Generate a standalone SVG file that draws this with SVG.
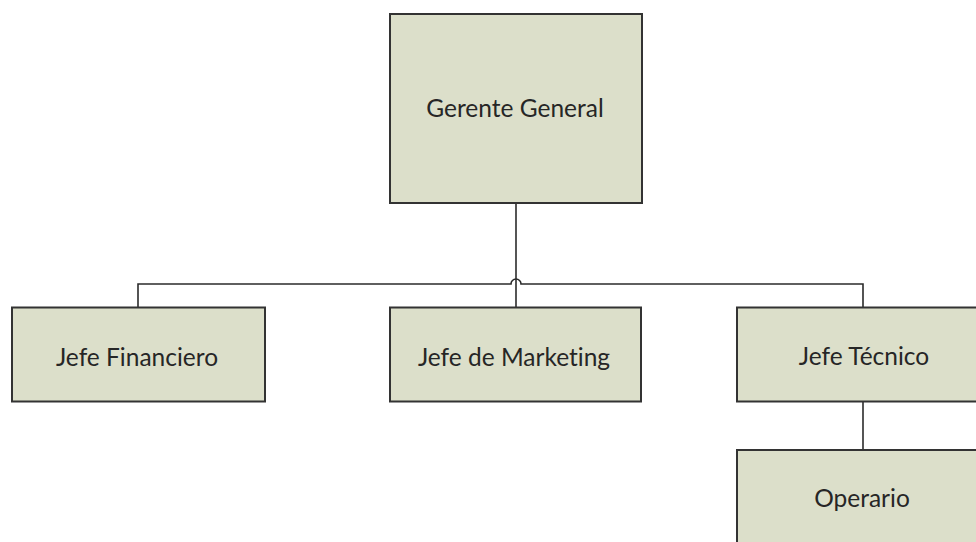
<svg xmlns="http://www.w3.org/2000/svg" width="976" height="542" viewBox="0 0 976 542">
  <style>
    .box { fill: #dcdfca; stroke: #333333; stroke-width: 2; }
    .lbl { font-family: "Lato", "Open Sans", "Liberation Sans", sans-serif; font-size: 24.5px; fill: #262626; text-anchor: middle; dominant-baseline: central; font-variant-ligatures: none; }
    .wire { fill: none; stroke: #2b2b2b; stroke-width: 1.6; }
  </style>
  <rect x="0" y="0" width="976" height="542" fill="#ffffff"/>

  <!-- connectors -->
  <g id="connectors">
    <path class="wire" d="M516 203 V307"/>
    <path class="wire" d="M138 308 V284 H511 A5 5 0 0 1 521 284 H863 V308"/>
    <path class="wire" d="M863 402 V450"/>
  </g>

  <!-- nodes -->
  <g id="gerente-general">
    <rect class="box" x="390" y="14" width="252" height="189"/>
    <text class="lbl" x="515" y="107">Gerente General</text>
  </g>
  <g id="jefe-financiero">
    <rect class="box" x="12" y="307.5" width="253" height="94"/>
    <text class="lbl" x="137" y="356">Jefe Financiero</text>
  </g>
  <g id="jefe-marketing">
    <rect class="box" x="390" y="307.5" width="251" height="94"/>
    <text class="lbl" x="514" y="356">Jefe de Marketing</text>
  </g>
  <g id="jefe-tecnico">
    <rect class="box" x="737" y="307.5" width="250" height="94"/>
    <text class="lbl" x="864" y="355">Jefe Técnico</text>
  </g>
  <g id="operario">
    <rect class="box" x="737" y="450" width="250" height="96"/>
    <text class="lbl" x="862" y="497">Operario</text>
  </g>
</svg>
